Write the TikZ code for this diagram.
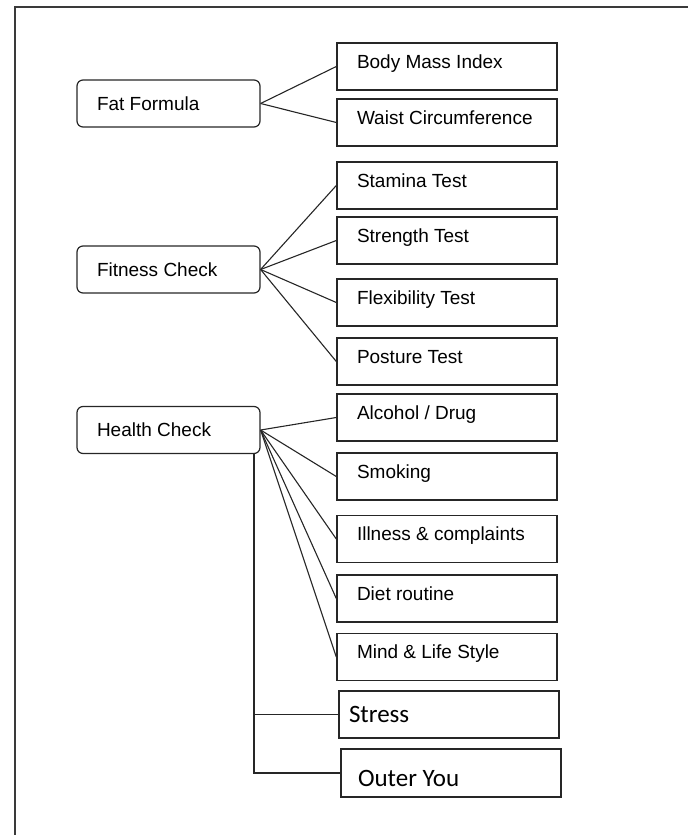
\documentclass[tikz,border=0pt]{standalone}
\usepackage{fontspec}
\setmainfont{Liberation Sans}
\newfontfamily\calfont{Carlito}
\usepackage{tikz}
\usetikzlibrary{positioning}
\definecolor{Frame}{HTML}{3A3A3A}
\definecolor{Ink}{HTML}{262626}

\begin{document}
\begin{tikzpicture}[x=1pt,y=-1pt,font=\fontsize{19}{23}\selectfont,
  rootbox/.style={draw=Ink,rounded corners=6pt,line width=1.2pt,minimum width=183pt,minimum height=47pt,
    text width=143pt,inner xsep=20pt,align=flush left},
  leafbox/.style={draw=Ink,line width=1.4pt,text width=180pt,inner xsep=20pt,inner ysep=11pt,
    text height=14pt,text depth=11pt,align=flush left},
  calbox/.style={leafbox,font=\calfont\fontsize{25}{30}\selectfont},
  link/.style={line width=1.1pt,Ink}]
  \useasboundingbox (0,0) rectangle (688,835);
  % frame
  \draw[line width=2pt,Frame] (15,835) -- (15,7) -- (688,7);
  % left column
  \node[rootbox] (fat) at (168.5,103.5) {Fat Formula};
  \node[rootbox] (fitness) at (168.5,269.5) {Fitness Check};
  \node[rootbox] (health) at (168.5,430) {Health Check};
  % right column
  \node[leafbox] (bmi) at (447,66.5) {Body Mass Index};
  \node[leafbox] (waist) at (447,122.5) {Waist Circumference};
  \node[leafbox] (stamina) at (447,185.5) {Stamina Test};
  \node[leafbox] (strength) at (447,240.5) {Strength Test};
  \node[leafbox] (flex) at (447,302.5) {Flexibility Test};
  \node[leafbox] (posture) at (447,361.5) {Posture Test};
  \node[leafbox] (alcohol) at (447,417.5) {Alcohol / Drug};
  \node[leafbox] (smoking) at (447,476.5) {Smoking};
  \node[leafbox] (illness) at (447,539) {Illness \& complaints};
  \node[leafbox] (diet) at (447,598.5) {Diet routine};
  \node[leafbox] (mind) at (447,657) {Mind \& Life Style};
  \node[calbox,text width=200pt,inner xsep=10pt,text height=20.5pt,text depth=4.5pt] (stress) at (449,714.5) {Stress};
  \node[calbox,text width=186pt,inner xsep=17pt,text height=26pt,text depth=0pt] (outer) at (451,773) {Outer You};
  % connectors
  \draw[link](fat.east)--(bmi.west);\draw[link](fat.east)--(waist.west);
  \draw[link](fitness.east)--(stamina.west);\draw[link](fitness.east)--(strength.west);
  \draw[link](fitness.east)--(flex.west);\draw[link](fitness.east)--(posture.west);
  \draw[link](health.east)--(alcohol.west);\draw[link](health.east)--(smoking.west);
  \draw[link](health.east)--(illness.west);\draw[link](health.east)--(diet.west);
  \draw[link](health.east)--(mind.west);
  \coordinate (trunk) at (254,0);
  \draw[link](health.south -| trunk) |- (outer.west);
  \draw[link](trunk |- stress.west)--(stress.west);
\end{tikzpicture}
\end{document}
